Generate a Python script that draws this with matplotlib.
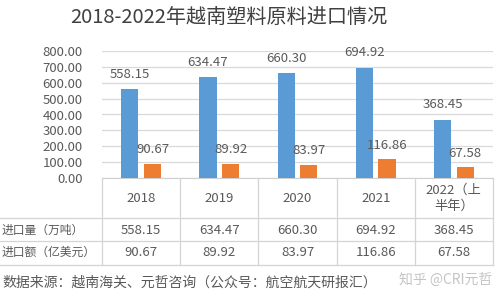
import matplotlib
matplotlib.use("Agg")
import matplotlib.pyplot as plt
from matplotlib.lines import Line2D

plt.rcParams['font.family'] = ['Noto Sans CJK SC', 'DejaVu Sans']

title = "2018-2022年越南塑料原料进口情况"
categories = ["2018", "2019", "2020", "2021", "2022（上\n半年）"]
volume = [558.15, 634.47, 660.30, 694.92, 368.45]      # 进口量（万吨）
amount = [90.67, 89.92, 83.97, 116.86, 67.58]          # 进口额（亿美元）
row_labels = ["进口量（万吨）", "进口额（亿美元）"]
yticks = [0, 100, 200, 300, 400, 500, 600, 700, 800]
source = "数据来源：越南海关、元哲咨询（公众号：航空航天研报汇）"
watermark = "知乎 @CRI元哲"

W, H = 500, 300
BLUE = "#5B9BD5"
ORANGE = "#ED7D31"
TXT = "#595959"
GRID = "#d9d9d9"

fig = plt.figure(figsize=(W / 100, H / 100), dpi=100)
fig.patch.set_facecolor("white")

def fx(x):
    return x / W

def fy(y):
    return 1 - y / H

# plot area in pixels
L, R, T, B = 102, 493, 51, 178
ax = fig.add_axes([fx(L), fy(B), fx(R - L), (B - T) / H])
n = len(categories)
xs = list(range(n))
bw = 0.22
off = 0.145
ax.bar([x - off for x in xs], volume, width=bw, color=BLUE, zorder=3)
ax.bar([x + off for x in xs], amount, width=bw, color=ORANGE, zorder=3)
for x, v in zip(xs, volume):
    ax.annotate(f"{v:.2f}", (x - off, v), xytext=(0, 15), textcoords="offset pixels",
                ha="center", va="center", fontsize=9.5, color=TXT, zorder=5)
for x, v in zip(xs, amount):
    ax.annotate(f"{v:.2f}", (x + off, v), xytext=(0, 14), textcoords="offset pixels",
                ha="center", va="center", fontsize=9.5, color=TXT, zorder=5)
ax.set_xlim(-0.5, n - 0.5)
ax.set_ylim(0, 800)
ax.set_yticks(yticks)
ax.set_yticklabels([f"{t:.2f}" for t in yticks], fontsize=9.5, color=TXT)
ax.tick_params(axis="y", length=0, pad=14)
ax.set_xticks([])
ax.yaxis.grid(True, color=GRID, linewidth=0.9, zorder=0)
for s in ["top", "right", "left"]:
    ax.spines[s].set_visible(False)
ax.spines["bottom"].set_color("#cfcfcf")
ax.patch.set_alpha(0)

# title
fig.text(fx(229), fy(17), title, ha="center", va="center", fontsize=14.5, color="#404040")

# table
LC = "#d4d4d4"
col_edges = [L + i * (R - L) / n for i in range(n + 1)]
row_y = [B, 218, 241, 265]
for x in col_edges:
    fig.add_artist(Line2D([fx(x), fx(x)], [fy(B), fy(row_y[-1])], color=LC, lw=0.9))
for y in row_y[1:]:
    fig.add_artist(Line2D([fx(0), fx(R)], [fy(y), fy(y)], color=LC, lw=0.9))

centers = [(col_edges[i] + col_edges[i + 1]) / 2 for i in range(n)]
for c, cat in zip(centers, categories):
    fig.text(fx(c), fy(198), cat, ha="center", va="center", fontsize=9.5, color=TXT,
             linespacing=1.25)
for c, v in zip(centers, volume):
    fig.text(fx(c), fy(230), f"{v:.2f}", ha="center", va="center", fontsize=9.5, color=TXT)
for c, v in zip(centers, amount):
    fig.text(fx(c), fy(252), f"{v:.2f}", ha="center", va="center", fontsize=9.5, color=TXT)

fig.text(fx(2), fy(230), row_labels[0], ha="left", va="center", fontsize=8.5, color=TXT)
fig.text(fx(2), fy(252), row_labels[1], ha="left", va="center", fontsize=8.5, color=TXT)

# source & watermark
fig.text(fx(2), fy(283), source, ha="left", va="center", fontsize=10, color=TXT)
fig.text(fx(492), fy(280), watermark, ha="right", va="center", fontsize=10, color="#c4c4c4")

fig.savefig("out.png", dpi=100, facecolor="white")
